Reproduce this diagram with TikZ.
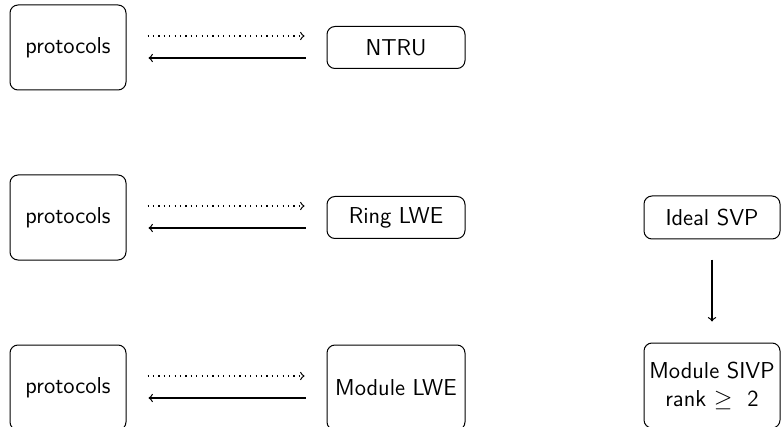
\documentclass[tikz,border=0pt]{standalone}
\usepackage{amsmath}
\begin{document}
\begin{tikzpicture}[x=0.5pt,y=-0.5pt,
  box/.style={draw,rounded corners=4pt,line width=0.5pt,align=center,
    font=\sffamily\fontsize{11.5}{14}\selectfont,inner sep=1pt},
  wide/.style={box,minimum width=58pt,minimum height=42.5pt},
  flat/.style={box,minimum width=69pt,minimum height=21pt},
  tall/.style={box,minimum width=69pt,minimum height=42.5pt},
  conn/.style={line width=0.6pt,->,shorten <=10.5pt,shorten >=11pt},
  dotconn/.style={conn,dash pattern=on 0.6pt off 2.1pt}]
\useasboundingbox[clip] (0,0) rectangle (781,427);

% left column: protocols
\node[wide] (p1) at (68,47.5) {protocols};
\node[wide] (p2) at (68,217.5) {protocols};
\node[wide] (p3) at (68,387.5) {protocols};

% middle column: assumptions
\node[flat] (ntru) at (396,47.5) {NTRU};
\node[flat] (ring) at (396,217.5) {Ring LWE};
\node[tall] (mlwe) at (396,387.5) {Module LWE};

% right column: lattice problems
\node[box,minimum width=68pt,minimum height=21.5pt] (ideal) at (712,217.5) {Ideal SVP};
\node[box,minimum width=68pt,minimum height=42.5pt] (sivp) at (712,385.5) {Module SIVP\\rank $\geq$ \ 2};

% paired reductions
\foreach \a/\b in {p1/ntru,p2/ring,p3/mlwe}{
  \draw[dotconn] ([yshift=5.75pt]\a.east) -- ([yshift=5.75pt]\b.west);
  \draw[conn] ([yshift=-5.25pt]\b.west) -- ([yshift=-5.25pt]\a.east);
}

\draw[line width=0.6pt,->,shorten <=10pt,shorten >=10.5pt] (ideal.south) -- (sivp.north);
\end{tikzpicture}
\end{document}
